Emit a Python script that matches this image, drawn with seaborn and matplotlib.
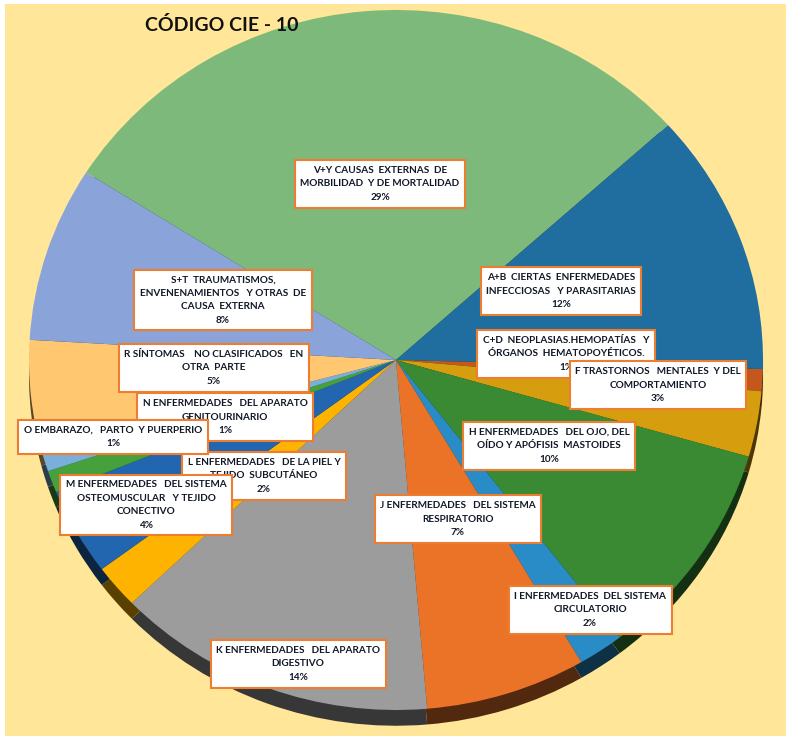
import matplotlib
matplotlib.use("Agg")
import matplotlib.pyplot as plt
import seaborn as sns

sns.set_theme(style="white")
plt.rcParams['font.family'] = ['Lato', 'DejaVu Sans']

# ---- data ----
codes = ["V+Y", "A+B", "C+D", "F", "H", "I", "J", "K", "L", "M", "N", "O", "R", "S+T"]
label_texts = [
    "V+Y CAUSAS  EXTERNAS  DE\nMORBILIDAD  Y DE MORTALIDAD",
    "A+B  CIERTAS  ENFERMEDADES\nINFECCIOSAS   Y PARASITARIAS",
    "C+D  NEOPLASIAS.HEMOPATÍAS   Y\nÓRGANOS  HEMATOPOYÉTICOS.",
    "F TRASTORNOS   MENTALES  Y DEL\nCOMPORTAMIENTO",
    "H ENFERMEDADES   DEL OJO, DEL\nOÍDO Y APÓFISIS  MASTOIDES",
    "I ENFERMEDADES  DEL SISTEMA\nCIRCULATORIO",
    "J ENFERMEDADES   DEL SISTEMA\nRESPIRATORIO",
    "K ENFERMEDADES   DEL APARATO\nDIGESTIVO",
    "L ENFERMEDADES   DE LA PIEL Y\nTEJIDO  SUBCUTÁNEO",
    "M ENFERMEDADES   DEL SISTEMA\nOSTEOMUSCULAR   Y TEJIDO\nCONECTIVO",
    "N ENFERMEDADES   DEL APARATO\nGENITOURINARIO",
    "O EMBARAZO,   PARTO  Y PUERPERIO",
    "R SÍNTOMAS    NO CLASIFICADOS   EN\nOTRA  PARTE",
    "S+T  TRAUMATISMOS,\nENVENENAMIENTOS   Y OTRAS  DE\nCAUSA  EXTERNA",
]
percentages = [29, 12, 1, 3, 10, 2, 7, 14, 2, 4, 1, 1, 5, 8]
title = "CÓDIGO CIE - 10"

# ---- styling ----
slice_colors = ['#7DB97A', '#1F6E9F', '#C4581C', '#D69E0E', '#3A8A34', '#2A8CC6',
                '#EB7327', '#9C9C9C', '#FDB300', '#2266B0', '#46A03C', '#7AAEDB',
                '#FFC870', '#8AA3D9']
label_pos = {
    "V+Y": (380, 184), "A+B": (561, 291), "C+D": (566, 354), "F": (658, 385),
    "H": (549, 446), "I": (590, 610), "J": (458, 519), "K": (298, 664),
    "L": (264, 476), "M": (146, 505), "N": (225, 417), "O": (113, 437),
    "R": (214, 368), "S+T": (223, 300),
}
draw_order = ["V+Y", "A+B", "C+D", "F", "H", "J", "I", "K", "L", "M", "S+T", "R", "N", "O"]

W, H = 789, 740
fig = plt.figure(figsize=(W / 100, H / 100), dpi=100)
fig.patch.set_facecolor('white')

# background panel
bg = fig.add_axes([5 / W, 4 / H, 781 / W, 732 / H], zorder=-5)
bg.set_facecolor('#FFE699')
bg.set_xticks([]); bg.set_yticks([])
for s in bg.spines.values():
    s.set_visible(False)

cx, cy, rx, ry = 396, 360, 367, 350
ax = fig.add_axes([(cx - rx) / W, 1 - (cy + ry) / H, 2 * rx / W, 2 * ry / H], zorder=1)
ax.patch.set_alpha(0)

palette = sns.color_palette(slice_colors)
dark = [tuple(c * 0.35 for c in col) for col in palette]

# 3D-ish side (shadow) then top face
ax.pie(percentages, colors=dark, startangle=147.6, counterclock=False,
       center=(0, -0.045), radius=1.0, wedgeprops=dict(linewidth=0))
ax.pie(percentages, colors=palette, startangle=147.6, counterclock=False,
       center=(0, 0), radius=1.0, wedgeprops=dict(linewidth=0))
ax.set_xlim(-1, 1)
ax.set_ylim(-1.0, 1.0)
ax.set_aspect('auto')
ax.axis('off')

for code in draw_order:
    i = codes.index(code)
    x, y = label_pos[code]
    txt = f"{label_texts[i]}\n{percentages[i]}%"
    fig.text(x / W, 1 - y / H, txt, ha='center', va='center', multialignment='center',
             fontsize=7.2, fontweight='bold', color='#111827', linespacing=1.65,
             zorder=5,
             bbox=dict(boxstyle='square,pad=0.55', facecolor='white',
                       edgecolor='#ED7D31', linewidth=1.5))

fig.text(145 / W, 1 - 25 / H, title, ha='left', va='center', fontsize=14,
         fontweight='bold', color='#111111', zorder=5)

fig.savefig("out.png", dpi=100, facecolor=fig.get_facecolor())
